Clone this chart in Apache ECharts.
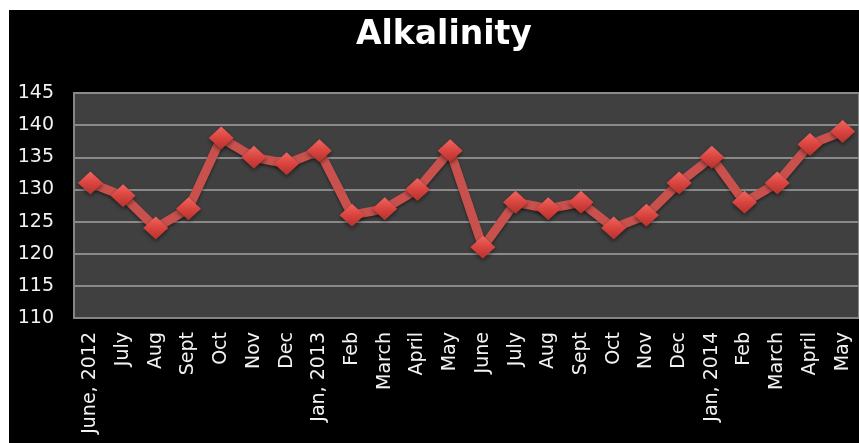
<!DOCTYPE html>
<html>
<head>
<meta charset="utf-8">
<script src="https://cdn.jsdelivr.net/npm/echarts@6/dist/echarts.min.js"></script>
<style>
  html, body { margin: 0; padding: 0; background: #ffffff; width: 859px; height: 443px; overflow: hidden; }
  #chart { position: absolute; left: 9px; top: 10px; width: 850px; height: 433px; background: #000; }
</style>
</head>
<body>
<div id="chart"></div>
<script>
const titleText = 'Alkalinity';
const categories = ['June, 2012', 'July', 'Aug', 'Sept', 'Oct', 'Nov', 'Dec', 'Jan, 2013', 'Feb', 'March', 'April', 'May', 'June', 'July', 'Aug', 'Sept', 'Oct', 'Nov', 'Dec', 'Jan, 2014', 'Feb', 'March', 'April', 'May'];
const alkalinity = [131, 129, 124, 127, 138, 135, 134, 136, 126, 127, 130, 136, 121, 128, 127, 128, 124, 126, 131, 135, 128, 131, 137, 139];
const yMin = 110, yMax = 145, yStep = 5;

const chart = echarts.init(document.getElementById('chart'), null, { renderer: 'canvas' });
chart.setOption({
  backgroundColor: '#000000',
  animation: false,
  title: {
    text: titleText,
    left: 342,
    top: 4,
    textStyle: { color: '#ffffff', fontFamily: 'DejaVu Sans', fontWeight: 'bold', fontSize: 33 }
  },
  grid: {
    left: 65, right: 0, top: 83, bottom: 125,
    show: true, backgroundColor: '#404040', borderColor: '#858585', borderWidth: 2
  },
  xAxis: {
    type: 'category',
    data: categories,
    boundaryGap: true,
    axisLine: { show: true, lineStyle: { color: '#858585', width: 2 } },
    axisTick: { show: false },
    axisLabel: {
      rotate: 90, interval: 0, margin: 14,
      color: '#f2f2f2', fontFamily: 'DejaVu Sans', fontSize: 19
    },
    splitLine: { show: false }
  },
  yAxis: {
    type: 'value',
    min: yMin, max: yMax, interval: yStep,
    axisLine: { show: true, lineStyle: { color: '#858585', width: 2 } },
    axisTick: { show: false },
    axisLabel: { color: '#f2f2f2', fontFamily: 'DejaVu Sans', fontSize: 19, margin: 20 },
    splitLine: { show: true, lineStyle: { color: '#8a8a8a', width: 2 } }
  },
  series: [{
    type: 'line',
    data: alkalinity,
    symbol: 'diamond',
    symbolSize: [25, 23],
    lineStyle: { color: '#c9514d', width: 9, shadowColor: 'rgba(0,0,0,0.45)', shadowBlur: 3, shadowOffsetY: 2 },
    itemStyle: {
      color: new echarts.graphic.LinearGradient(0, 0, 0, 1, [
        { offset: 0, color: '#f0665f' },
        { offset: 0.5, color: '#da443f' },
        { offset: 1, color: '#b3322e' }
      ]),
      borderWidth: 0,
      shadowColor: 'rgba(0,0,0,0.5)', shadowBlur: 4, shadowOffsetY: 2
    },
    z: 3
  }]
});
</script>
</body>
</html>
